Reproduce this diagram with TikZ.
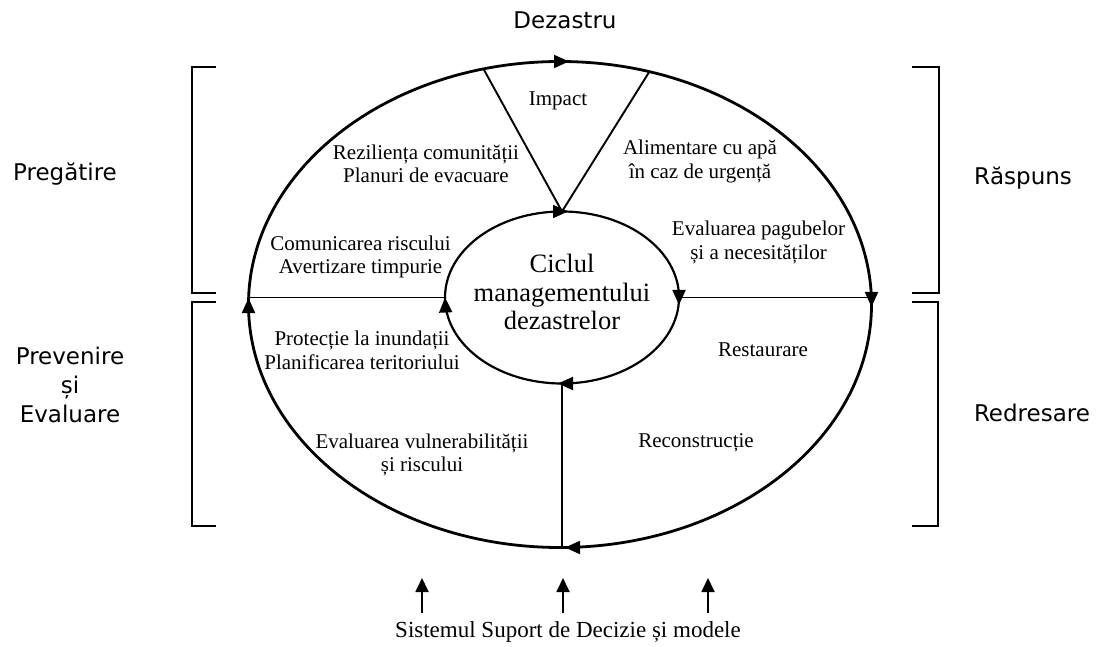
\documentclass[tikz,border=0pt]{standalone}
\usepackage{fontspec}
\setmainfont{Liberation Serif}
\newfontfamily\sansf{DejaVu Sans}
\usetikzlibrary{arrows.meta,shapes.geometric}
\begin{document}
\begin{tikzpicture}[x=1pt,y=1pt,
  ring/.style={draw, ellipse, inner sep=0pt, outer sep=0pt},
  conn/.style={line width=1.9pt},
  head/.style={line width=1.8pt, -{Triangle[length=15pt,width=13pt]}},
  uparr/.style={line width=1.8pt, -{Triangle[length=14pt,width=13pt]}},
  brk/.style={line width=1.6pt},
  lbl/.style={font=\fontsize{21}{23.5}\selectfont, align=center, inner sep=0pt},
  big/.style={font=\fontsize{26.5}{28.5}\selectfont, align=center, inner sep=0pt},
  side/.style={font=\sansf\fontsize{23}{29}\selectfont, align=center, inner sep=0pt},
]
\useasboundingbox (0,0) rectangle (1102,646);

% ellipses
\node[ring, line width=2.8pt, minimum width=623pt, minimum height=486pt] (outer) at (560,341.5) {};
\node[ring, line width=2.2pt, minimum width=234pt, minimum height=172pt] (inner) at (562,348.5) {};
\node[big] (cyc) at (562,354) {Ciclul\\managementului\\dezastrelor};

% connectors
\draw[conn] (outer.west |- inner.west) -- (inner.west);
\draw[conn] (inner.east) -- (outer.east |- inner.east);
\draw[conn] (outer.108.4) -- (inner.north) -- (outer.69.9);
\draw[conn] (inner.south) -- (inner.south |- outer.south);

% arrowheads on the rings (clockwise)
\draw[head] (outer.north) -- ([xshift=9pt]outer.north);
\draw[head] ([yshift=8pt]outer.east) -- ([yshift=-2.5pt]outer.east);
\draw[head] ([xshift=15pt]outer.south) -- ([xshift=5pt]outer.south);
\draw[head] ([yshift=-8pt]outer.west) -- ([yshift=6.5pt]outer.west);
\draw[head] ([xshift=-8pt]inner.north) -- ([xshift=6pt]inner.north);
\draw[head] ([yshift=7.5pt]inner.east) -- ([yshift=-7.5pt]inner.east);
\draw[head] ([xshift=8pt]inner.south) -- ([xshift=-4pt]inner.south);
\draw[head] ([xshift=0.6pt,yshift=-13pt]inner.west) -- (inner.west);

% brackets
\draw[brk] (216,579) -- (192,579) -- (192,353) -- (216,353);
\draw[brk] (216,344) -- (192,344) -- (192,120) -- (216,120);
\draw[brk] (912,579) -- (939,579) -- (939,353) -- (912,353);
\draw[brk] (912,344) -- (938,344) -- (938,120) -- (912,120);

% side labels
\node[side] (dez) at (565,626) {Dezastru};
\node[side] (preg) at (65,472) {Pregătire};
\node[side] (rasp) at (1023,468) {Răspuns};
\node[side] (prev) at (70,261) {Prevenire\\și\\Evaluare};
\node[side] (redr) at (1032,233) {Redresare};

% inner labels
\node[lbl] (imp) at (558,545) {Impact};
\node[lbl] (rez) at (426,482) {Reziliența comunității\\Planuri de evacuare};
\node[lbl] (ali) at (700,484.5) {Alimentare cu apă\\în caz de urgență};
\node[lbl] (com) at (360.5,389) {Comunicarea riscului\\Avertizare timpurie};
\node[lbl] (eva) at (758.5,403.5) {Evaluarea pagubelor\\și a necesităților};
\node[lbl] (pro) at (362,295.5) {Protecție la inundații\\Planificarea teritoriului};
\node[lbl] (res) at (763,296) {Restaurare};
\node[lbl] (vul) at (422,191) {Evaluarea vulnerabilității\\și riscului};
\node[lbl] (rec) at (696,203) {Reconstrucție};

% bottom
\node[lbl, font=\fontsize{23}{26}\selectfont] (sys) at (568,14) {Sistemul Suport de Decizie și modele};
\coordinate (b1) at (422,33); \coordinate (e1) at (422,68);
\coordinate (b2) at (563,33); \coordinate (e2) at (563,68);
\coordinate (b3) at (708,33); \coordinate (e3) at (708,68);
\draw[uparr] (b1) -- (e1);
\draw[uparr] (b2) -- (e2);
\draw[uparr] (b3) -- (e3);
\end{tikzpicture}
\end{document}
